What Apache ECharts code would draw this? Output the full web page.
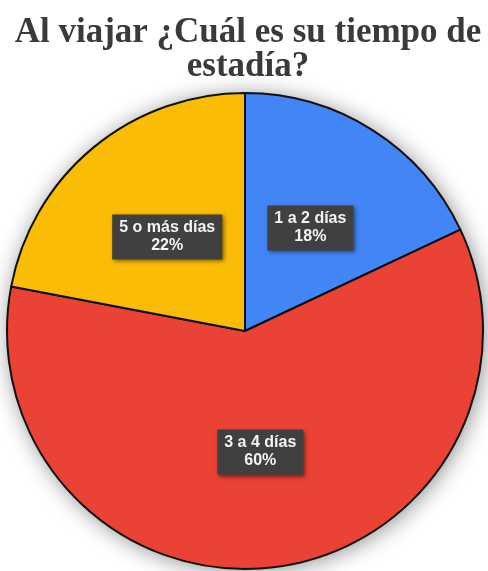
<!DOCTYPE html>
<html>
<head>
<meta charset="utf-8">
<script src="https://cdn.jsdelivr.net/npm/echarts@6/dist/echarts.min.js"></script>
<style>
html,body{margin:0;padding:0;background:#fff;}
#chart{width:488px;height:571px;}
</style>
</head>
<body>
<div id="chart"></div>
<script>
const titleText = 'Al viajar ¿Cuál es su tiempo de\nestadía?';
const categories = ['1 a 2 días', '3 a 4 días', '5 o más días'];
const values = [18, 60, 22];
const colors = ['#4285F4', '#EA4335', '#FBBC05'];

const data = categories.map((c, i) => ({ name: c, value: values[i], itemStyle: { color: colors[i] } }));

const chart = echarts.init(document.getElementById('chart'), null, { renderer: 'canvas' });
chart.setOption({
  animation: false,
  backgroundColor: '#fff',
  title: {
    text: titleText,
    left: 243,
    textAlign: 'center',
    top: 11,
    textStyle: {
      fontFamily: 'Liberation Serif',
      fontWeight: 'bold',
      fontSize: 35,
      lineHeight: 34,
      color: '#3a3a3a'
    }
  },
  series: [
    {
      type: 'pie',
      silent: true,
      z: 1,
      center: [245, 331],
      radius: 238,
      startAngle: 90,
      data: data,
      label: { show: false },
      labelLine: { show: false },
      itemStyle: {
        shadowBlur: 22,
        shadowColor: 'rgba(0,0,0,0.45)',
        shadowOffsetX: 2,
        shadowOffsetY: 2
      }
    },
    {
      type: 'pie',
      z: 2,
      center: [245, 331],
      radius: 238,
      startAngle: 90,
      data: data,
      itemStyle: {
        borderColor: '#111',
        borderWidth: 2
      },
      label: {
        show: true,
        position: 'inside',
        formatter: '{b}\n{d}%',
        color: '#f4f4f4',
        fontFamily: 'Arial, "Liberation Sans", sans-serif',
        fontWeight: 'bold',
        fontSize: 16,
        lineHeight: 18,
        backgroundColor: '#404040',
        padding: [5, 7, 4, 7],
        shadowBlur: 4,
        shadowColor: 'rgba(0,0,0,0.5)',
        shadowOffsetX: 2,
        shadowOffsetY: 2
      },
      labelLine: { show: false }
    }
  ]
});
</script>
</body>
</html>
